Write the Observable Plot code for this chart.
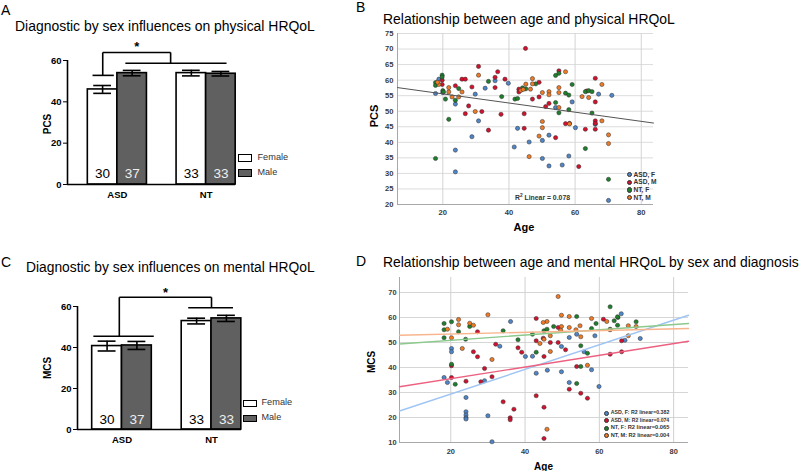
<!DOCTYPE html>
<html><head><meta charset="utf-8">
<script src="https://cdn.jsdelivr.net/npm/d3@7"></script>
<script src="https://cdn.jsdelivr.net/npm/@observablehq/plot@0.6"></script>
<style>
body{margin:0;background:#fff;}
#root{position:relative;width:800px;height:471px;overflow:hidden;font-family:"Liberation Sans",Arial,sans-serif;background:#fff;}
.abs{position:absolute;white-space:nowrap;line-height:1;}
.plot{position:absolute;}
</style></head><body><div id="root"></div>
<script>
// ---------- DATA ----------
const diagnoses = ["ASD", "NT"];
const sexes = ["Female", "Male"];
const groupN = [30, 37, 33, 33];               // ASD F, ASD M, NT F, NT M
const pcsMean = [46.0, 53.9, 53.9, 53.6];
const pcsErr  = [1.9, 1.3, 1.35, 1.1];
const mcsMean = [40.7, 41.0, 52.9, 54.2];
const mcsErr  = [2.4, 1.95, 1.4, 1.5];
// significance brackets (x in diagnosis units, y in score units)
const bracketPCS = {left: [-0.28, -0.04], leftLeg: -0.165, right: [0.09, 1.23], rightLeg: 0.6, yLeft: 52.8, yRight: 58.7, yTop: 63.9, star: 66.6};
const bracketMCS = {left: [-0.32, 0.355], leftLeg: -0.03, right: [0.74, 1.24], rightLeg: 1.0, yLeft: 45.5, yRight: 59.4, yTop: 64.5, star: 66.6};

const groups = ["ASD, F", "ASD, M", "NT, F", "NT, M"];
const groupColors = ["#4f86c8", "#d2112e", "#1e7f2c", "#ee7a26"];

// Panel B: [age, PCS]
const pcsASD_F = [[18.8,60.3],[35.8,59.8],[39.8,59.0],[32.8,57.4],[17.8,55.7],[20,56],[29.8,55.5],[23.8,52.3],[30.8,46.9],[28.8,41.8],[42.6,44.5],[41.6,38.5],[23.8,37.5],[23.8,30.5],[67.1,55.5],[71.1,55.1],[59.1,53.0],[54.1,51.2],[66.1,45.8],[60.1,44.7],[52.1,42.3],[50.1,40.6],[46.1,40.1],[58.1,35.6],[50.1,34.8],[52.1,32.4],[56.1,32.7],[70.1,21.3]];
const pcsASD_M = [[45,70.2],[30.8,64.4],[36.6,62.7],[38.8,60.3],[35.8,60.9],[35.8,57.6],[25.8,60.3],[26.8,60.3],[28.8,57.8],[19.8,60],[19.8,58.6],[23.8,58.2],[27.8,51.7],[31.8,49.9],[26.8,49.2],[37.6,49.0],[44.6,49.2],[33.8,43.9],[44.6,44.5],[43,57.1],[43,56.2],[55.1,63.0],[66.1,60.6],[49.1,59.3],[63.5,56.5],[49.1,54.6],[47.1,53.9],[66.1,53.0],[52.1,52.5],[51.1,51.5],[57.1,46.0],[58.3,46.1],[66.1,46.9],[66.1,46.1],[63.1,44.2],[66.1,44.2],[54.1,41.5],[61.1,32.2]];
const pcsNT_F = [[17.8,59.2],[17.8,58.3],[19.8,61.6],[19.8,61.0],[20.0,56.6],[24.8,57.3],[20.2,56.2],[20.8,53.9],[23.8,53.5],[33.8,59.6],[37.8,54.7],[41.8,53.9],[42.6,54.1],[21.8,47.4],[17.8,34.8],[55.1,62.2],[54.1,61.5],[59.1,58.6],[48.1,58.8],[44.1,57.5],[45.1,57.2],[57.1,55.8],[58.1,55.2],[63.1,56.3],[64.1,56.6],[65.1,56.3],[54.1,52.8],[58.1,50.5],[55.1,49.5],[65.1,49.4],[63.1,38.0],[70.1,28.1]];
const pcsNT_M = [[30.8,61.6],[18.8,58.6],[18.4,59.3],[21.8,57.6],[21.8,56.2],[25.8,56.2],[22.8,54.6],[24.8,54.6],[29.8,49.9],[43.6,56.7],[57.1,62.7],[47.1,60.5],[68.1,58.6],[45.1,58.7],[47.1,58.8],[55.1,57.6],[44.3,57.0],[46.5,57.1],[50.1,56.0],[52.1,56.3],[52.1,55.3],[55.1,56.0],[62.1,54.7],[64.1,54.4],[55.1,51.2],[50.1,46.7],[58.3,45.9],[68.1,46.9],[50.1,44.7],[70.1,42.4],[70.1,39.6],[49.1,42.0],[46.1,35.4]];
const pcsAgeDomain = [6.3, 83.7];
const pcsFit = [57.6, 46.2];        // fitted PCS at the two ends of the age domain
const pcsTicks = [20,25,30,35,40,45,50,55,60,65,70,75];
const ageTicks = [20,40,60,80];

// Panel D: [age, MCS]
const mcsASD_F = [[36.1,58.4],[33.2,48.5],[40.1,44.4],[42.0,44.5],[20.2,47.6],[20.2,46.3],[18.2,36.0],[19.1,34.0],[29.1,34.7],[43.0,37.7],[24.1,28.0],[24.1,22.3],[24.1,21.0],[24.1,19.9],[24.1,19.4],[30.0,20.7],[31.1,10.3],[53.9,53.3],[51.9,52.0],[58.8,52.7],[66.9,50.9],[71.0,51.6],[65.9,61.5],[49.8,48.4],[55.9,46.3],[46.0,38.9],[49.8,38.3],[57.9,39.1],[51.9,34.0],[59.9,32.4]];
const mcsASD_M = [[43.0,59.6],[27.2,54.3],[43.0,50.7],[32.1,49.3],[26.1,46.3],[38.1,47.9],[39.1,46.1],[45.1,44.4],[27.2,44.3],[20.2,40.7],[29.1,39.6],[31.1,36.3],[20.2,36.0],[24.1,34.5],[28.1,34.3],[34.1,26.3],[37.0,23.3],[36.0,19.9],[36.0,19.1],[43.0,28.7],[45.1,24.1],[45.1,11.6],[61.1,59.3],[48.9,56.0],[66.0,50.7],[46.8,50.0],[48.9,50.0],[44.9,51.7],[50.9,47.1],[62.9,45.3],[66.0,46.3],[53.9,40.4],[51.9,31.3],[55.0,29.7],[56.8,27.7]];
const mcsNT_F = [[18.2,57.6],[20.2,58.3],[25.1,56.4],[18.2,55.1],[22.1,54.3],[34.1,54.7],[18.2,51.9],[24.0,51.3],[38.1,51.1],[45.1,54.7],[42.0,53.3],[43.0,46.1],[20.2,41.3],[21.2,33.3],[62.9,64.3],[65.0,60.0],[64.0,58.7],[64.9,60.3],[69.9,58.3],[59.1,57.6],[57.9,55.6],[62.9,55.3],[64.9,56.9],[53.9,60.4],[47.7,56.4],[45.9,55.3],[55.0,48.7],[56.8,45.7],[55.0,40.4],[53.9,33.6]];
const mcsNT_M = [[30.0,61.1],[22.1,59.2],[22.1,57.1],[25.1,57.7],[26.1,56.9],[19.1,55.3],[20.2,51.9],[23.1,47.6],[31.1,43.2],[45.1,51.3],[44.0,49.6],[48.9,68.4],[62.0,58.4],[57.9,59.6],[69.9,56.4],[67.8,56.7],[62.9,55.1],[49.8,60.9],[51.9,60.4],[49.8,56.4],[51.9,56.0],[54.8,56.7],[45.9,58.4],[44.9,58.0],[46.8,52.7],[49.6,54.9],[53.7,55.1],[55.0,52.3],[67.8,52.7],[46.8,46.4],[56.8,40.9],[45.9,15.3]];
const mcsAgeDomain = [6.2, 84.0];
const mcsFitStart = [22.6, 32.3, 49.4, 52.9];   // fitted MCS at left end of age domain
const mcsFitEnd   = [60.9, 50.5, 57.6, 55.6];   // fitted MCS at right end
const mcsR2 = ["0.382", "0.074", "0.065", "0.004"];
const mcsFitColors = ["#9fc5f2", "#ec6080", "#8cc98c", "#f8b48c"];
const mcsTicks = [10,20,30,40,50,60,70];

// ---------- HELPERS ----------
const FONT = '"Liberation Sans", Arial, sans-serif';
const root = document.getElementById("root");
function txt(s, o) {
  const el = document.createElement("div");
  el.className = "abs";
  if (o.html) el.innerHTML = s; else el.textContent = s;
  el.style.fontFamily = o.family || FONT;
  el.style.fontSize = o.size + "px";
  el.style.fontWeight = o.weight || "normal";
  el.style.color = o.color || "#000";
  root.appendChild(el);
  if (o.fit) {
    const w = el.getBoundingClientRect().width;
    el.style.fontSize = (o.size * o.fit / w) + "px";
  }
  const ax = o.anchor === "middle" ? "-50%" : o.anchor === "end" ? "-100%" : "0";
  el.style.left = o.x + "px";
  el.style.top = o.y + "px";
  el.style.transform = `translate(${ax}, -50%)` + (o.rot ? ` rotate(${o.rot}deg)` : "");
  return el;
}
function box(x, y, w, h, css) {
  const el = document.createElement("div");
  el.style.position = "absolute";
  el.style.left = x + "px"; el.style.top = y + "px";
  el.style.width = w + "px"; el.style.height = h + "px";
  el.style.boxSizing = "border-box";
  Object.assign(el.style, css);
  root.appendChild(el);
  return el;
}
function mount(svg, left, top) {
  svg.classList.add("plot");
  svg.style.left = left + "px";
  svg.style.top = top + "px";
  root.appendChild(svg);
}

// ---------- BAR PANELS (A, C) ----------
function barPanel(means, errs, br, xDomain, mL, mR, mT, mB) {
  const W = 0.333, cap = 0.1;
  const rows = means.map((m, i) => {
    const diag = Math.floor(i / 2), sex = i % 2;
    const x1 = diag + (sex === 0 ? -W : 0);
    return {diag, sex: sexes[sex], mean: m, err: errs[i], n: String(groupN[i]), x1, x2: x1 + W, xc: x1 + W / 2};
  });
  const segs = [
    {x1: br.left[0], x2: br.left[1], y1: br.yLeft, y2: br.yLeft},
    {x1: br.leftLeg, x2: br.leftLeg, y1: br.yLeft, y2: br.yTop},
    {x1: br.leftLeg, x2: br.rightLeg, y1: br.yTop, y2: br.yTop},
    {x1: br.rightLeg, x2: br.rightLeg, y1: br.yTop, y2: br.yRight},
    {x1: br.right[0], x2: br.right[1], y1: br.yRight, y2: br.yRight}
  ];
  return Plot.plot({
    width: 330, height: 180, marginLeft: mL, marginRight: mR, marginTop: mT, marginBottom: mB,
    x: {domain: xDomain, ticks: [0, 1], tickFormat: i => diagnoses[i], tickSize: 0, tickPadding: 7, label: null},
    y: {domain: [0, 60], ticks: [0, 20, 40, 60], tickSize: 4, tickPadding: 2, label: null},
    color: {domain: sexes, range: ["#ffffff", "#606060"]},
    style: {fontFamily: FONT, fontSize: "9.5px", fontWeight: "bold", color: "#000", background: "none", overflow: "visible"},
    marks: [
      Plot.rect(rows, {x1: "x1", x2: "x2", y1: () => 0, y2: "mean", fill: "sex", stroke: "#000", strokeWidth: 1.6}),
      Plot.ruleX(rows, {x: "xc", y1: d => d.mean - d.err, y2: d => d.mean + d.err, stroke: "#000", strokeWidth: 1.6}),
      Plot.ruleY(rows, {y: d => d.mean + d.err, x1: d => d.xc - cap, x2: d => d.xc + cap, stroke: "#000", strokeWidth: 1.6}),
      Plot.ruleY(rows, {y: d => d.mean - d.err, x1: d => d.xc - cap, x2: d => d.xc + cap, stroke: "#000", strokeWidth: 1.6}),
      Plot.ruleY([0], {stroke: "#000", strokeWidth: 1.6}),
      Plot.ruleX([xDomain[0]], {stroke: "#000", strokeWidth: 1.6}),
      Plot.link(segs, {x1: "x1", x2: "x2", y1: "y1", y2: "y2", stroke: "#000", strokeWidth: 1.6}),
      Plot.text(["*"], {x: () => (br.leftLeg + br.rightLeg) / 2, y: () => br.star, text: d => d, fontSize: 13, fontWeight: "bold"}),
      Plot.text(rows.filter(d => d.sex === "Female"), {x: "xc", y: () => 5, text: "n", fill: "#000", fontSize: 13.5, fontWeight: "normal"}),
      Plot.text(rows.filter(d => d.sex === "Male"), {x: "xc", y: () => 5, text: "n", fill: "#eeeeee", fontSize: 13.5, fontWeight: "normal"})
    ]
  });
}

mount(barPanel(pcsMean, pcsErr, bracketPCS, [-0.562, 1.331], 67, 95, 30, 26), 0, 30);
mount(barPanel(mcsMean, mcsErr, bracketMCS, [-0.497, 1.335], 77, 89, 31, 26), 0, 275);

// ---------- SCATTER PANELS (B, D) ----------
function toRows(sets) {
  return sets.flatMap((arr, gi) => arr.map(([age, v]) => ({age, v, group: groups[gi]})));
}
const pcsRows = toRows([pcsASD_F, pcsASD_M, pcsNT_F, pcsNT_M]);
const mcsRows = toRows([mcsASD_F, mcsASD_M, mcsNT_F, mcsNT_M]);

const plotB = Plot.plot({
  width: 330, height: 200, marginLeft: 57, marginRight: 17, marginTop: 5, marginBottom: 24,
  x: {domain: pcsAgeDomain, ticks: ageTicks, tickSize: 0, tickPadding: 5, label: null},
  y: {domain: [20, 75], ticks: pcsTicks, tickSize: 0, tickPadding: 4, label: null},
  color: {domain: groups, range: groupColors},
  style: {fontFamily: FONT, fontSize: "7.6px", fontWeight: "bold", color: "#3a3a3a", background: "none", overflow: "visible"},
  marks: [
    Plot.ruleY(pcsTicks, {stroke: "#dcdcdc"}),
    Plot.ruleX(ageTicks, {stroke: "#d4d4d4"}),
    Plot.ruleX([pcsAgeDomain[0]], {stroke: "#a8a8a8"}),
    Plot.ruleY([20], {stroke: "#a8a8a8"}),
    Plot.dot(pcsRows, {x: "age", y: "v", fill: "group", stroke: "#2a2a2a", strokeWidth: 0.5, r: 2.1}),
    Plot.line(pcsAgeDomain.map((a, i) => ({a, v: pcsFit[i]})), {x: "a", y: "v", stroke: "#555", strokeWidth: 1})
  ]
});
mount(plotB, 340, 28);

const fitRowsD = groups.flatMap((g, i) => [
  {g, a: mcsAgeDomain[0], v: mcsFitStart[i]},
  {g, a: mcsAgeDomain[1], v: mcsFitEnd[i]}
]);
const plotD = Plot.plot({
  width: 355, height: 199, marginLeft: 59, marginRight: 7, marginTop: 5, marginBottom: 29,
  x: {domain: mcsAgeDomain, ticks: ageTicks, tickSize: 0, tickPadding: 6, label: null},
  y: {domain: [10, 76], ticks: mcsTicks, tickSize: 0, tickPadding: 3, label: null},
  color: {domain: groups, range: groupColors},
  style: {fontFamily: FONT, fontSize: "7.4px", fontWeight: "bold", color: "#3a3a3a", background: "none", overflow: "visible"},
  marks: [
    Plot.ruleY(mcsTicks, {stroke: "#d6d6d6"}),
    Plot.ruleX(ageTicks, {stroke: "#d0d0d0"}),
    Plot.ruleX([mcsAgeDomain[0]], {stroke: "#a8a8a8"}),
    Plot.ruleY([10], {stroke: "#a8a8a8"}),
    Plot.dot(mcsRows, {x: "age", y: "v", fill: "group", stroke: "#2a2a2a", strokeWidth: 0.5, r: 2.1}),
    ...groups.map((g, i) => Plot.line(fitRowsD.filter(d => d.g === g), {x: "a", y: "v", stroke: mcsFitColors[i], strokeWidth: 1.4}))
  ]
});
mount(plotD, 340, 272);

// ---------- TEXT: letters, titles, axis labels ----------
txt("A", {x: 1, y: 10, size: 14});
txt("B", {x: 356, y: 7, size: 14});
txt("C", {x: 1, y: 262, size: 14});
txt("D", {x: 356, y: 261, size: 14});

txt("Diagnostic by sex influences on physical HRQoL", {x: 15, y: 27, size: 14, fit: 300});
txt("Relationship between age and physical HRQoL", {x: 383, y: 20, size: 15, fit: 292});
txt("Diagnostic by sex influences on mental HRQoL", {x: 26, y: 268, size: 14, fit: 289});
txt("Relationship between age and mental HRQoL by sex and diagnosis", {x: 383, y: 263, size: 15, fit: 416});

txt("PCS", {x: 48, y: 124, size: 10, weight: "bold", anchor: "middle", rot: -90});
txt("MCS", {x: 48, y: 368, size: 10, weight: "bold", anchor: "middle", rot: -90});
txt("PCS", {x: 373.5, y: 116, size: 11, weight: "bold", anchor: "middle", rot: -90});
txt("Age", {x: 524, y: 227, size: 11, weight: "bold", anchor: "middle"});
txt("MCS", {x: 372, y: 362, size: 10, weight: "bold", anchor: "middle", rot: -90});
txt("Age", {x: 543.5, y: 466.5, size: 10, weight: "bold", anchor: "middle"});

// bar legends
function barLegend(x, yF, yM, tx, h) {
  box(x, yF, 13.4, h, {border: "1.5px solid #000", background: "#fff"});
  box(x, yM, 13.4, h, {border: "1.5px solid #000", background: "#606060"});
  txt(sexes[0], {x: tx, y: yF + h / 2, size: 10.5, color: "#333", fit: 30.7});
  txt(sexes[1], {x: tx, y: yM + h / 2, size: 10.5, color: "#333", fit: 19.7});
}
barLegend(238.3, 154, 169.3, 257.5, 7.7);
barLegend(243.3, 400, 415, 261.5, 6.8);

// scatter legends
const legYB = [174.7, 182.4, 190, 197.7];
groups.forEach((g, i) => {
  box(626.5, legYB[i] - 2.8, 5.6, 5.6, {borderRadius: "50%", background: groupColors[i], border: "0.5px solid #333"});
  txt(g, {x: 633.5, y: legYB[i], size: 6.6, weight: "bold", color: "#333"});
});
txt("R<sup style='font-size:0.7em'>2</sup> Linear = 0.078", {x: 515, y: 198.3, size: 7.6, weight: "bold", color: "#333", html: true, fit: 55});

const legYD = [413.3, 420.8, 428.3, 435.8];
groups.forEach((g, i) => {
  box(604, legYD[i] - 2.7, 5.4, 5.4, {borderRadius: "50%", background: groupColors[i], border: "0.5px solid #333"});
  txt(`${g}: R2 linear=${mcsR2[i]}`, {x: 610.7, y: legYD[i], size: 6.2, weight: "bold", color: "#333", fit: 58.6});
});
</script></body></html>
